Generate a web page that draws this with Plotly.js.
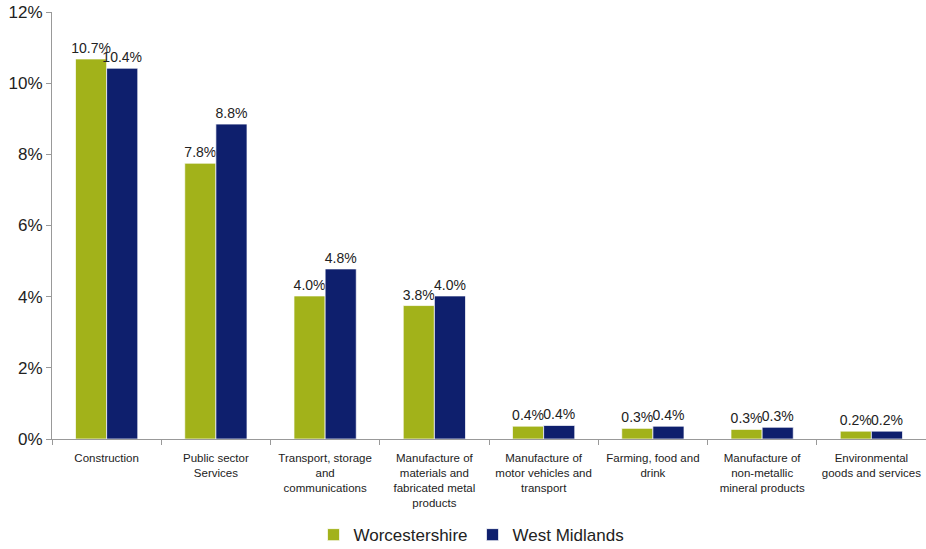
<!DOCTYPE html>
<html><head><meta charset="utf-8">
<script src="https://cdn.plot.ly/plotly-3.0.1.min.js"></script>
<style>html,body{margin:0;padding:0;background:#fff}#chart{width:926px;height:549px}</style>
</head><body><div id="chart"></div>
<script>
const categories = [
  "Construction",
  "Public sector<br>Services",
  "Transport, storage<br>and<br>communications",
  "Manufacture of<br>materials and<br>fabricated metal<br>products",
  "Manufacture of<br>motor vehicles and<br>transport",
  "Farming, food and<br>drink",
  "Manufacture of<br>non-metallic<br>mineral products",
  "Environmental<br>goods and services"
];
const worcestershire = [0.1068, 0.0775, 0.0402, 0.0375, 0.0036, 0.0030, 0.0027, 0.0022];
const westMidlands   = [0.1042, 0.0885, 0.0478, 0.0402, 0.0038, 0.0036, 0.0033, 0.0022];
const yTicks = [0, 0.02, 0.04, 0.06, 0.08, 0.10, 0.12];

const labelFont = {family: "Liberation Sans, Arial", size: 14, color: "#222"};
const traces = [
  {type: "bar", name: "Worcestershire", x: categories, y: worcestershire,
   marker: {color: "#A2B21A", line: {color: "rgba(255,255,255,0.7)", width: 1}},
   texttemplate: "%{y:.1%}", textposition: "outside", cliponaxis: false, constraintext: "none",
   textfont: labelFont, hoverinfo: "none"},
  {type: "bar", name: "West Midlands", x: categories, y: westMidlands,
   marker: {color: "#0E1F6D", line: {color: "rgba(255,255,255,0.7)", width: 1}},
   texttemplate: "%{y:.1%}", textposition: "outside", cliponaxis: false, constraintext: "none",
   textfont: labelFont, hoverinfo: "none"}
];
const layout = {
  width: 926, height: 549,
  margin: {l: 52, r: 0, t: 12, b: 110, autoexpand: false},
  paper_bgcolor: "#fff", plot_bgcolor: "#fff",
  barmode: "group", bargap: 0.43, bargroupgap: 0,
  showlegend: true,
  legend: {orientation: "h", x: 0.48, xanchor: "center", y: -0.225, yanchor: "middle",
           font: {family: "Liberation Sans, Arial", size: 17, color: "#222"},
           itemwidth: 30, tracegroupgap: 0},
  xaxis: {showline: true, linecolor: "#999", linewidth: 1, ticks: "outside", ticklen: 5,
          tickcolor: "#999", tickson: "boundaries", showgrid: false, automargin: false,
          tickangle: 0, ticklabelstandoff: 8,
          tickfont: {family: "Liberation Sans, Arial", size: 11.5, color: "#222"}},
  yaxis: {range: [0, 0.12], tickvals: yTicks, tickformat: ".0%", showline: true, linecolor: "#999",
          linewidth: 1, ticks: "outside", ticklen: 5, tickcolor: "#999", showgrid: false, zeroline: false,
          automargin: false,
          tickfont: {family: "Liberation Sans Narrow, Liberation Sans, Arial", size: 17, color: "#222"}}
};
Plotly.newPlot("chart", traces, layout, {displayModeBar: false, staticPlot: true});
</script></body></html>
